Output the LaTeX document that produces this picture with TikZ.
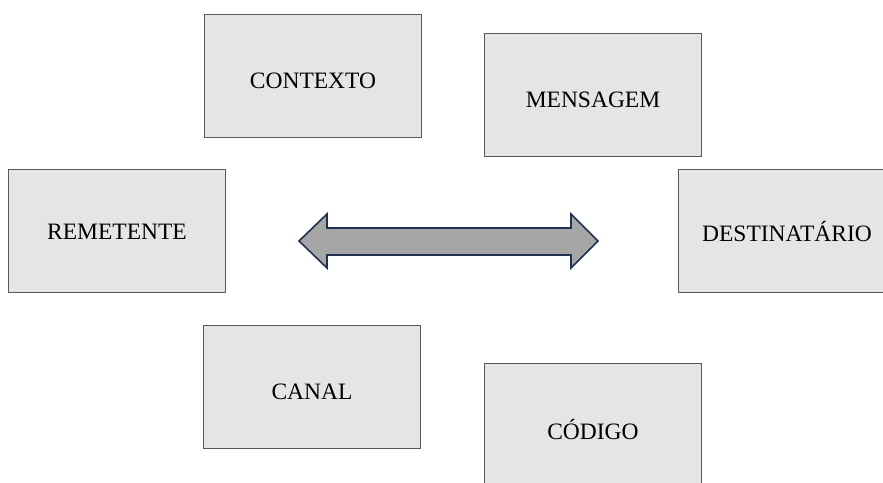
\documentclass[tikz,border=0pt]{standalone}
\usepackage{fontspec}
\setmainfont{Liberation Serif}
\begin{document}
\begin{tikzpicture}[x=1pt,y=-1pt,
  box/.style={draw=black!65,line width=1pt,fill=black!10,anchor=north west,inner sep=0pt,
    minimum width=217pt,minimum height=123pt},
  lbl/.style={font=\fontsize{23.5}{27}\selectfont,text=black,inner sep=0pt},
  dblarrow/.style={draw=arrnavy,line width=1.6pt,fill=arrgray,line join=miter}]
\definecolor{arrnavy}{HTML}{1F3050}
\definecolor{arrgray}{HTML}{A6A6A6}
\useasboundingbox (0,0) rectangle (883,482);
\clip (0,0) rectangle (883,482);
\node[box] (ctx) at (204,14) {};
\node[lbl] (ctxt) at ([yshift=-5pt]ctx.center) {CONTEXTO};
\node[box] (msg) at (484,33) {};
\node[lbl] (msgt) at ([yshift=-5pt]msg.center) {MENSAGEM};
\node[box] (rem) at (8,169) {};
\node[lbl] (remt) at ([yshift=-1pt]rem.center) {REMETENTE};
\node[box] (dst) at (678,169) {};
\node[lbl] (dstt) at ([yshift=-0.5pt]dst.center) {DESTINATÁRIO};
\node[box] (can) at (203,325) {};
\node[lbl] (cant) at ([yshift=-5pt]can.center) {CANAL};
\node[box,minimum height=134pt] (cod) at (484,363) {};
\node[lbl] (codt) at ([yshift=1pt]cod.center) {CÓDIGO};
\draw[dblarrow] (299,241) -- (327,214) -- (327,228) -- (571,228) -- (571,214) -- (598,241)
  -- (571,268) -- (571,255) -- (327,255) -- (327,268) -- cycle;
\end{tikzpicture}
\end{document}
